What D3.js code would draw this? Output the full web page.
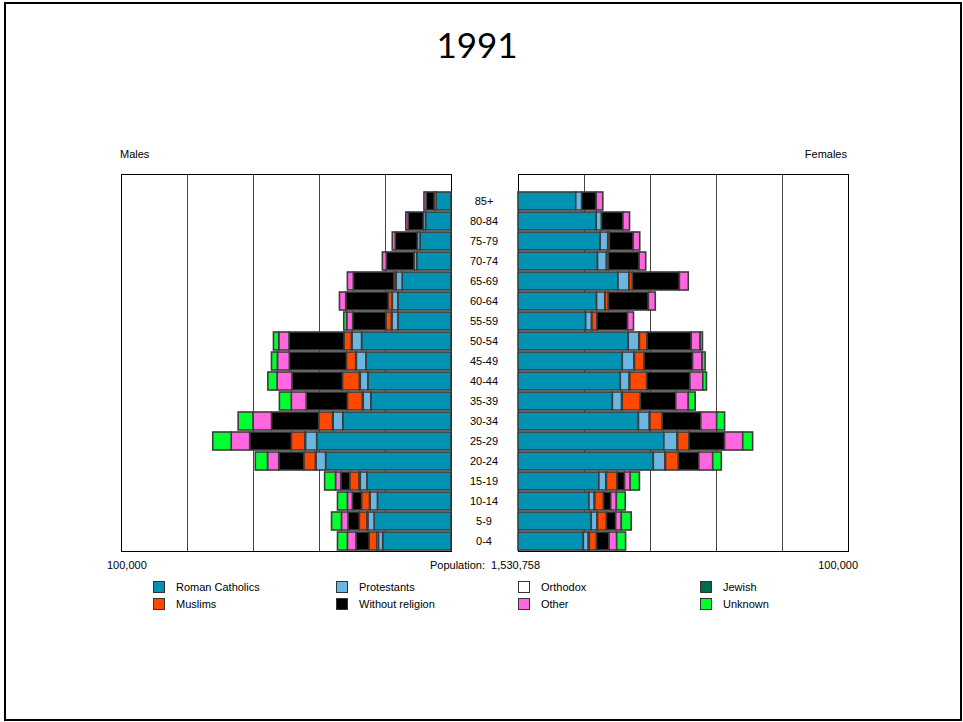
<!DOCTYPE html>
<html>
<head>
<meta charset="utf-8">
<script src="https://cdn.jsdelivr.net/npm/d3@7"></script>
<style>
  body { margin: 0; background: #fff; }
  text { font-family: "Liberation Sans", Arial, sans-serif; font-size: 11px; fill: #000; }
  .title { font-family: Lato, "Open Sans", sans-serif; font-size: 35px; }
</style>
</head>
<body>
<div id="chart"></div>
<script>
// age groups, bottom (0-4) to top (85+)
var ages = ["0-4", "5-9", "10-14", "15-19", "20-24", "25-29", "30-34", "35-39", "40-44",
            "45-49", "50-54", "55-59", "60-64", "65-69", "70-74", "75-79", "80-84", "85+"];

var religions = ["Roman Catholics", "Protestants", "Orthodox", "Jewish",
                 "Muslims", "Without religion", "Other", "Unknown"];
var colors = ["#0092b2", "#6cb6e2", "#ffffff", "#006b4f", "#ff4800", "#000000", "#ff66e0", "#00ff30"];

// values in thousands, per age group
var maleCatholics  = [20.7, 23.3, 22.3, 25.5, 38.0, 40.7, 32.8, 24.3, 25.2, 25.8, 27.1, 16.1, 16.1, 14.8, 10.4, 9.4, 7.7, 4.5];
var maleProtestant = [1.3, 1.9, 2.2, 2.0, 2.9, 3.4, 2.9, 2.3, 2.3, 2.9, 2.9, 1.8, 1.7, 1.8, 0.8, 0.8, 0.7, 0.6];
var maleOrthodox   = [0.5, 0.3, 0.2, 0.4, 0.2, 0.2, 0.2, 0.3, 0.3, 0.2, 0.2, 0.2, 0.1, 0.1, 0, 0, 0, 0];
var maleJewish     = [0, 0, 0, 0, 0, 0, 0, 0, 0, 0, 0, 0, 0, 0, 0, 0, 0, 0];
var maleMuslims    = [2.3, 2.3, 2.4, 2.8, 3.5, 4.1, 4.2, 4.5, 5.1, 2.8, 2.2, 1.6, 1.1, 0.6, 0, 0, 0, 0];
var maleWithout    = [4.0, 3.4, 2.8, 2.7, 7.6, 12.6, 14.3, 12.5, 15.3, 17.3, 16.7, 10.1, 12.9, 12.3, 8.4, 6.7, 4.6, 2.4];
var maleOther      = [2.6, 2.0, 1.5, 1.6, 3.4, 5.6, 5.6, 4.5, 4.5, 3.6, 3.1, 1.8, 1.9, 1.8, 1.2, 0.9, 0.7, 0.7];
var maleUnknown    = [3.0, 3.0, 3.0, 3.3, 3.7, 5.6, 4.5, 3.6, 2.8, 1.8, 1.6, 0.9, 0, 0, 0, 0, 0, 0];

var femaleCatholics  = [19.8, 22.2, 21.5, 24.5, 41.0, 44.2, 36.5, 28.6, 31.0, 31.6, 33.4, 20.5, 23.8, 30.3, 24.1, 24.9, 23.7, 17.5];
var femaleProtestant = [1.5, 1.7, 1.6, 2.1, 3.5, 4.0, 3.3, 2.8, 2.7, 3.5, 3.2, 1.8, 2.5, 3.3, 2.7, 2.3, 1.6, 1.8];
var femaleOrthodox   = [0.3, 0.2, 0.2, 0.2, 0.2, 0.2, 0.2, 0.2, 0.2, 0.2, 0.2, 0.1, 0.1, 0.1, 0, 0, 0, 0];
var femaleJewish     = [0, 0, 0, 0, 0, 0, 0, 0, 0, 0, 0, 0, 0, 0, 0, 0, 0, 0];
var femaleMuslims    = [2.2, 2.7, 2.6, 3.2, 3.9, 3.4, 3.7, 5.5, 5.1, 2.9, 2.3, 1.5, 1.0, 1.0, 0.6, 0.5, 0, 0];
var femaleWithout    = [3.8, 2.8, 2.2, 2.3, 6.2, 10.8, 11.7, 10.7, 13.1, 14.7, 13.4, 9.3, 12.1, 14.2, 9.3, 7.2, 6.5, 4.4];
var femaleOther      = [2.3, 1.7, 1.7, 1.7, 4.2, 5.5, 4.8, 3.8, 3.9, 2.9, 2.7, 1.8, 2.1, 2.7, 2.0, 2.0, 2.0, 2.0];
var femaleUnknown    = [2.7, 3.0, 2.7, 2.8, 2.6, 3.0, 2.4, 2.1, 1.1, 0.9, 0.7, 0, 0, 0, 0, 0, 0, 0];

var gridTicks = [20, 40, 60, 80];

var males = [maleCatholics, maleProtestant, maleOrthodox, maleJewish, maleMuslims, maleWithout, maleOther, maleUnknown];
var females = [femaleCatholics, femaleProtestant, femaleOrthodox, femaleJewish, femaleMuslims, femaleWithout, femaleOther, femaleUnknown];

function toRows(series) {
    return ages.map(function(a, i) {
        var row = { age: a };
        religions.forEach(function(r, j) { row[r] = series[j][i]; });
        return row;
    });
}

var width = 963, height = 722;
var svg = d3.select("#chart").append("svg")
    .attr("width", width)
    .attr("height", height);

// slide frame
svg.append("rect")
    .attr("x", 5).attr("y", 3)
    .attr("width", 956).attr("height", 717)
    .attr("fill", "none").attr("stroke", "#000").attr("stroke-width", 2);

svg.append("text").attr("class", "title")
    .attr("x", 477).attr("y", 58)
    .attr("text-anchor", "middle")
    .text("1991");

var panelTop = 174, panelBottom = 551;
var xLeft = d3.scaleLinear().domain([0, 100]).range([451, 121]);
var xRight = d3.scaleLinear().domain([0, 100]).range([518, 848]);
var y = d3.scaleBand().domain(ages.slice().reverse()).range([191, 551]);

var stack = d3.stack().keys(religions);

function drawSide(x, series) {
    var g = svg.append("g");
    // panel and grid
    g.selectAll(".grid").data(gridTicks).enter().append("line")
        .attr("x1", function(d) { return Math.round(x(d)) + 0.5; })
        .attr("x2", function(d) { return Math.round(x(d)) + 0.5; })
        .attr("y1", panelTop).attr("y2", panelBottom)
        .attr("stroke", "#444").attr("stroke-width", 1);
    g.append("rect")
        .attr("x", Math.min(x(0), x(100)) + 0.5).attr("y", panelTop + 0.5)
        .attr("width", Math.abs(x(100) - x(0))).attr("height", panelBottom - panelTop)
        .attr("fill", "none").attr("stroke", "#000");

    var layers = stack(toRows(series));
    g.selectAll(".layer").data(layers).enter().append("g")
        .attr("fill", function(d, i) { return colors[i]; })
        .selectAll("rect").data(function(d) { return d.filter(function(p) { return p[1] > p[0]; }); })
        .enter().append("rect")
        .attr("x", function(d) { return Math.min(x(d[0]), x(d[1])); })
        .attr("width", function(d) { return Math.abs(x(d[1]) - x(d[0])); })
        .attr("y", function(d) { return y(d.data.age) + 1; })
        .attr("height", y.bandwidth() - 2)
        .attr("stroke", "#3c3c3c").attr("stroke-width", 1.6);
}

drawSide(xLeft, males);
drawSide(xRight, females);

// age labels
svg.selectAll(".age").data(ages).enter().append("text")
    .attr("x", 484)
    .attr("y", function(d) { return y(d) + y.bandwidth() / 2 + 4; })
    .attr("text-anchor", "middle")
    .text(function(d) { return d; });

svg.append("text").attr("x", 120).attr("y", 158).text("Males");
svg.append("text").attr("x", 847).attr("y", 158).attr("text-anchor", "end").text("Females");
svg.append("text").attr("x", 107).attr("y", 569).text("100,000");
svg.append("text").attr("x", 858).attr("y", 569).attr("text-anchor", "end").text("100,000");
svg.append("text").attr("x", 485).attr("y", 569).attr("text-anchor", "middle")
    .attr("xml:space", "preserve").text("Population:  1,530,758");

// legend: two rows, four columns
var legendX = [153, 336, 518, 700];
var legendY = [581, 598];
var legend = svg.selectAll(".leg").data(religions).enter().append("g")
    .attr("transform", function(d, i) {
        var col = i % 4, row = Math.floor(i / 4);
        return "translate(" + legendX[col] + "," + legendY[row] + ")";
    });
legend.append("rect")
    .attr("x", 0.5).attr("y", 0.5).attr("width", 11).attr("height", 11)
    .attr("fill", function(d, i) { return colors[i]; })
    .attr("stroke", "#333");
legend.append("text")
    .attr("x", 23).attr("y", 10)
    .text(function(d) { return d; });
</script>
</body>
</html>
